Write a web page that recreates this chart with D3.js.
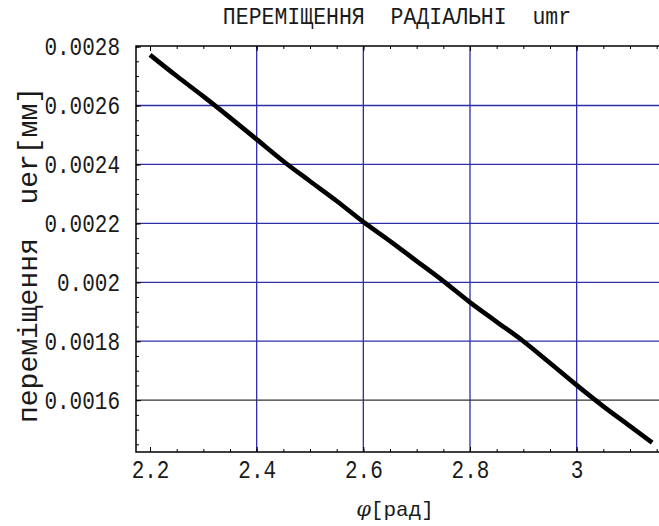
<!DOCTYPE html>
<html>
<head>
<meta charset="utf-8">
<script src="https://cdn.jsdelivr.net/npm/d3@7"></script>
<style>
  html, body { margin: 0; padding: 0; background: #fff; }
  svg { display: block; }
</style>
</head>
<body>
<script>
// Radial displacement u versus angle φ
const phi = [2.2, 2.25, 2.3, 2.35, 2.4, 2.45, 2.5, 2.55, 2.6, 2.65, 2.7, 2.75, 2.8, 2.85, 2.9, 2.95, 3.0, 3.05, 3.1, 3.1416];
const uer = [0.002772, 0.002700, 0.002631, 0.002559, 0.002485, 0.002411, 0.002343, 0.002276, 0.002205, 0.002140, 0.002072, 0.002004, 0.001932, 0.001866, 0.001800, 0.001726, 0.001651, 0.001579, 0.001512, 0.001456];

const xTicks = [2.2, 2.4, 2.6, 2.8, 3.0];
const xTickLabels = ["2.2", "2.4", "2.6", "2.8", "3"];
const xMinor = [2.2, 2.25, 2.3, 2.35, 2.4, 2.45, 2.5, 2.55, 2.6, 2.65, 2.7, 2.75, 2.8, 2.85, 2.9, 2.95, 3.0, 3.05, 3.1, 3.15];
const yTicks = [0.0016, 0.0018, 0.002, 0.0022, 0.0024, 0.0026, 0.0028];
const yTickLabels = ["0.0016", "0.0018", "0.002", "0.0022", "0.0024", "0.0026", "0.0028"];
const yMinor = [0.00145, 0.0015, 0.00155, 0.0016, 0.00165, 0.0017, 0.00175, 0.0018, 0.00185, 0.0019, 0.00195, 0.002,
  0.00205, 0.0021, 0.00215, 0.0022, 0.00225, 0.0023, 0.00235, 0.0024, 0.00245, 0.0025, 0.00255, 0.0026,
  0.00265, 0.0027, 0.00275, 0.0028];
const xGrid = [2.4, 2.6, 2.8, 3.0];
const yGridBlue = [0.0018, 0.002, 0.0022, 0.0024, 0.0026];
const yGridDark = [0.0016];

const titleText = "ПЕРЕМІЩЕННЯ  РАДІАЛЬНІ  umr";
const xLabelSymbol = "φ";
const xLabelUnit = "[рад]";
const yLabel = "переміщення  uer[мм]";

const W = 659, H = 526;
const frameL = 136, frameR = 664, frameT = 46, frameB = 452;
const mono = "'Liberation Mono', 'DejaVu Sans Mono', monospace";
const stretch = 1.2; // tall, narrow lettering

const svg = d3.select("body").append("svg").attr("width", W).attr("height", H);

const x = d3.scaleLinear().domain([2.1737, 3.1638]).range([frameL, frameR]);
const y = d3.scaleLinear().domain([0.001424, 0.002802]).range([frameB, frameT]);

// grid lines
const grid = svg.append("g");
grid.selectAll("line.gx").data(xGrid).join("line")
  .attr("x1", d => x(d)).attr("x2", d => x(d))
  .attr("y1", frameT).attr("y2", frameB)
  .attr("stroke", "#2e2ea6").attr("stroke-width", 1.3);
grid.selectAll("line.gy").data(yGridBlue).join("line")
  .attr("x1", frameL).attr("x2", frameR)
  .attr("y1", d => y(d)).attr("y2", d => y(d))
  .attr("stroke", "#2e2ea6").attr("stroke-width", 1.3);
grid.selectAll("line.gk").data(yGridDark).join("line")
  .attr("x1", frameL).attr("x2", frameR)
  .attr("y1", d => y(d)).attr("y2", d => y(d))
  .attr("stroke", "#333").attr("stroke-width", 1.3);

// inward ticks on the frame
function styleAxis(g) {
  g.select(".domain").remove();
  g.selectAll(".tick line").attr("stroke", "#000").attr("stroke-width", 1);
}
svg.append("g").attr("transform", `translate(0,${frameB})`)
  .call(d3.axisBottom(x).tickValues(xMinor).tickSize(-3).tickFormat(() => ""))
  .call(styleAxis);
svg.append("g").attr("transform", `translate(0,${frameT})`)
  .call(d3.axisTop(x).tickValues(xMinor).tickSize(-3).tickFormat(() => ""))
  .call(styleAxis);
svg.append("g").attr("transform", `translate(${frameL},0)`)
  .call(d3.axisLeft(y).tickValues(yMinor.filter(v => v > 0.001424)).tickSize(-3).tickFormat(() => ""))
  .call(styleAxis);
svg.append("g").attr("transform", `translate(0,${frameT})`)
  .call(d3.axisTop(x).tickValues(xTicks).tickSize(-5).tickFormat(() => ""))
  .call(styleAxis);

const xAxis = svg.append("g").attr("transform", `translate(0,${frameB})`)
  .call(d3.axisBottom(x).tickValues(xTicks).tickSize(-5).tickPadding(0)
    .tickFormat((d, i) => xTickLabels[i]))
  .call(styleAxis);
xAxis.selectAll("text")
  .attr("font-family", mono).attr("font-size", 21).attr("fill", "#1a1a1a")
  .attr("y", 0).attr("dy", 21.6)
  .attr("transform", `scale(1,${stretch})`);

const yAxis = svg.append("g").attr("transform", `translate(${frameL},0)`)
  .call(d3.axisLeft(y).tickValues(yTicks).tickSize(-5).tickPadding(16)
    .tickFormat((d, i) => yTickLabels[i]))
  .call(styleAxis);
yAxis.selectAll("text")
  .attr("font-family", mono).attr("font-size", 21).attr("fill", "#1a1a1a")
  .attr("dy", 6.9)
  .attr("transform", `scale(1,${stretch})`);

// curve
const line = d3.line().x((d, i) => x(phi[i])).y(d => y(d)).curve(d3.curveMonotoneX);
svg.append("path").datum(uer)
  .attr("d", line)
  .attr("fill", "none").attr("stroke", "#000")
  .attr("stroke-width", 4.6).attr("stroke-linecap", "butt").attr("stroke-linejoin", "round");

// frame
svg.append("rect")
  .attr("x", frameL).attr("y", frameT)
  .attr("width", frameR - frameL).attr("height", frameB - frameT)
  .attr("fill", "none").attr("stroke", "#000").attr("stroke-width", 1.5);

// title
svg.append("text")
  .attr("transform", `translate(397,24) scale(1,1.1)`)
  .attr("text-anchor", "middle")
  .attr("font-family", mono).attr("font-size", 21.5).attr("fill", "#1a1a1a")
  .style("white-space", "pre")
  .text(titleText);

// x label
const xl = svg.append("text")
  .attr("transform", "translate(395,516)")
  .attr("text-anchor", "middle")
  .attr("font-family", mono).attr("font-size", 21).attr("fill", "#1a1a1a");
xl.append("tspan").attr("font-style", "italic").attr("font-family", "'DejaVu Serif', serif").text(xLabelSymbol);
xl.append("tspan").text(xLabelUnit);

// y label
svg.append("text")
  .attr("transform", "translate(37,255) rotate(-90)")
  .attr("text-anchor", "middle")
  .attr("font-family", mono).attr("font-size", 28).attr("fill", "#1a1a1a")
  .style("white-space", "pre")
  .text(yLabel);
</script>
</body>
</html>
